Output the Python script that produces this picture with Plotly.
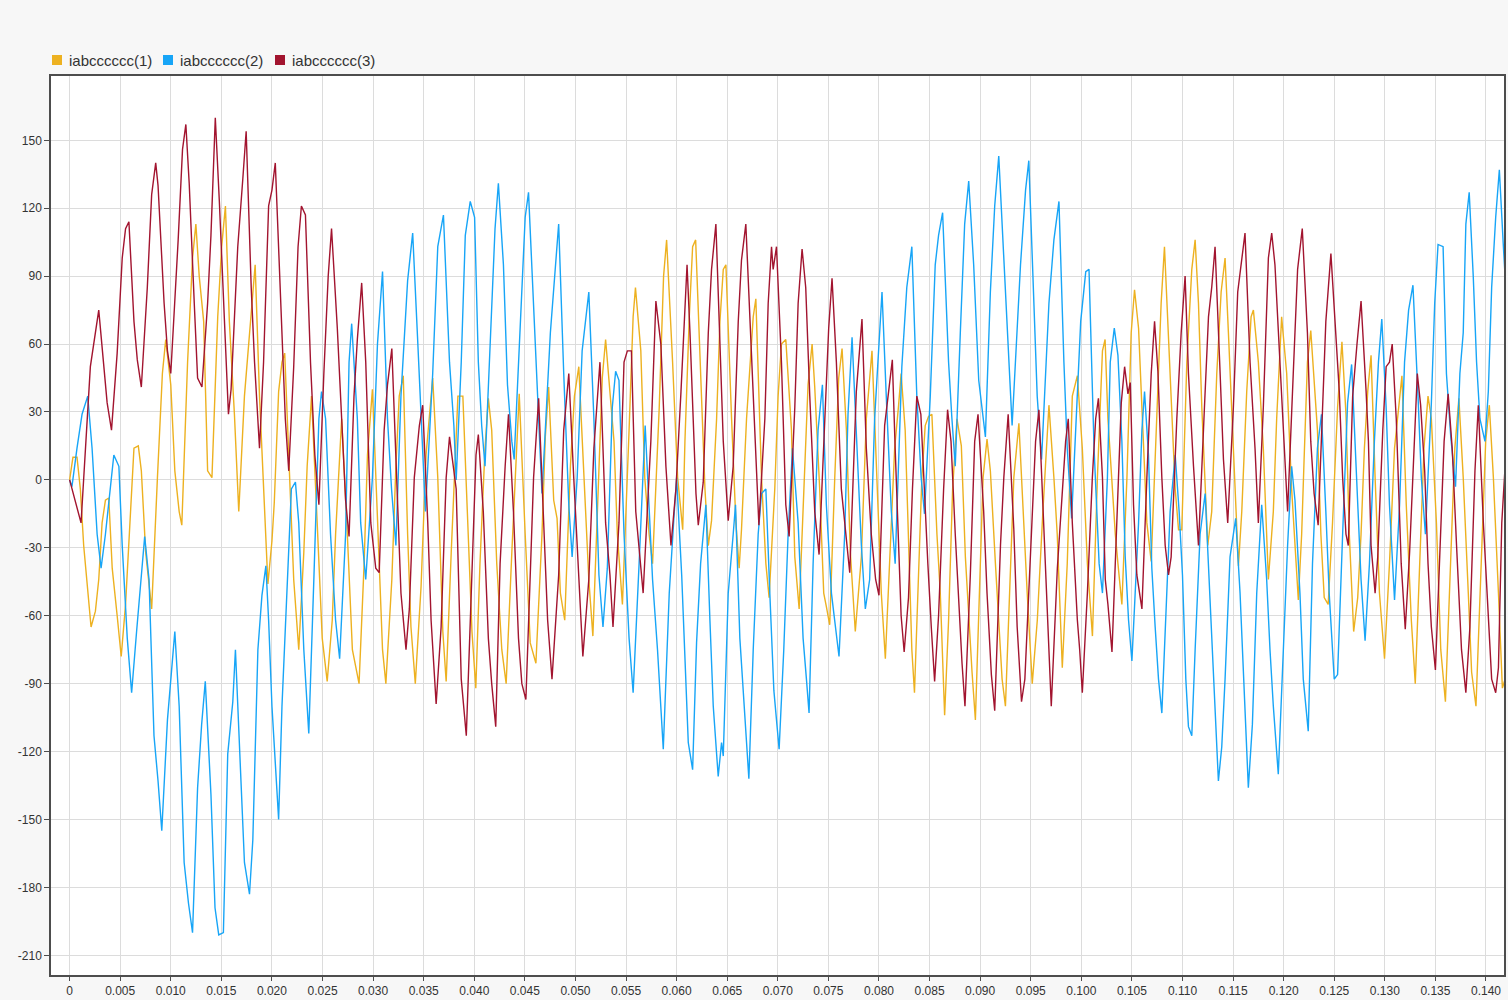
"""Three-phase current trace (iabcccccc) recreated with Plotly."""

import numpy as np
import plotly.graph_objects as go

# legend names and colours
series_names = ["iabcccccc(1)", "iabcccccc(2)", "iabcccccc(3)"]
series_colors = ["#EDB120", "#17A5F7", "#A2142F"]

# sample times in ms and values, phase 1 (orange)
t1_ms = [
    0.00, 0.33, 0.73, 1.06, 1.39, 1.72, 2.12, 2.55, 2.88, 3.21, 3.54, 3.87, 4.21, 4.70, 5.10,
    5.53, 6.03, 6.36, 6.79, 7.09, 7.52, 8.11, 8.68, 9.17, 9.50, 10.00, 10.40, 10.83, 11.09,
    11.66, 12.15, 12.48, 12.81, 13.25, 13.64, 14.07, 14.64, 15.03, 15.40, 15.79, 16.29, 16.72,
    17.28, 17.78, 18.34, 18.77, 19.27, 19.60, 20.00, 20.23, 20.66, 20.99, 21.26, 21.66, 22.15,
    22.65, 23.15, 23.48, 23.91, 24.47, 24.97, 25.46, 25.96, 26.29, 26.62, 26.89, 27.45, 27.95,
    28.61, 29.11, 29.44, 29.93, 30.43, 30.93, 31.26, 31.85, 32.25, 32.58, 32.98, 33.41, 33.74,
    34.17, 34.74, 35.23, 35.89, 36.39, 36.89, 37.22, 37.72, 38.38, 38.87, 39.37, 39.77, 40.15,
    40.56, 41.06, 41.39, 41.72, 42.22, 42.72, 43.15, 43.71, 44.21, 44.44, 45.03, 45.53, 46.09,
    46.69, 47.02, 47.35, 47.85, 48.18, 48.51, 48.94, 49.50, 49.90, 50.33, 50.99, 51.32, 51.72,
    52.32, 52.65, 52.98, 53.81, 54.14, 54.64, 55.30, 55.70, 55.93, 56.46, 56.85, 57.28, 57.62,
    58.28, 58.71, 59.01, 59.60, 60.10, 60.60, 60.82, 61.25, 61.58, 61.88, 62.30, 62.80, 63.13,
    63.45, 63.95, 64.28, 64.61, 64.87, 65.43, 65.86, 66.18, 66.41, 66.91, 67.24, 67.57, 67.83,
    68.39, 68.82, 69.14, 69.70, 70.03, 70.36, 70.79, 71.35, 71.68, 72.11, 72.66, 72.99, 73.39,
    73.65, 74.14, 74.54, 74.80, 75.13, 75.63, 76.02, 76.35, 76.78, 77.17, 77.66, 78.26, 78.75,
    79.31, 79.74, 80.23, 80.63, 81.05, 81.55, 81.94, 82.19, 82.59, 82.92, 83.25, 83.51, 83.91,
    84.24, 84.57, 84.90, 85.23, 85.73, 86.06, 86.49, 86.88, 87.28, 87.71, 88.14, 88.54, 88.87,
    89.20, 89.53, 89.86, 90.29, 90.68, 91.01, 91.51, 91.84, 92.17, 92.50, 93.00, 93.33, 93.83,
    94.32, 94.65, 95.15, 95.65, 96.20, 96.80, 97.29, 97.62, 98.12, 98.61, 99.11, 99.61, 100.10,
    100.60, 101.10, 101.59, 102.09, 102.35, 102.63, 103.03, 103.36, 103.62, 104.01, 104.51,
    104.93, 105.26, 105.66, 105.99, 106.48, 106.91, 107.47, 107.89, 108.22, 108.62, 108.95,
    109.28, 109.61, 109.93, 110.43, 110.92, 111.25, 111.58, 111.91, 112.24, 112.50, 112.89,
    113.39, 113.82, 114.21, 114.54, 115.03, 115.53, 115.86, 116.35, 116.78, 117.01, 117.50,
    117.99, 118.49, 118.98, 119.31, 119.80, 120.30, 120.79, 121.45, 121.78, 122.02, 122.35,
    122.68, 123.01, 123.34, 123.68, 124.01, 124.40, 124.83, 125.33, 125.76, 126.16, 126.49,
    126.92, 127.32, 127.65, 127.98, 128.31, 128.64, 129.04, 129.47, 129.97, 130.46, 130.96,
    131.69, 132.12, 132.62, 133.01, 133.44, 133.87, 134.27, 134.60, 135.10, 135.53, 135.99,
    136.42, 136.92, 137.32, 137.75, 138.25, 138.58, 139.01, 139.50, 139.97, 140.33, 140.73,
    141.23, 141.62, 141.89,
]
v1 = [
    0, 10, 10, -4, -29, -44, -65, -58, -44, -19, -9, -8, -39, -60, -78,
    -55, -14, 14, 15, 4, -32, -57, 1, 47, 62, 42, 4, -14, -20,
    52, 98, 113, 90, 70, 4, 1, 72, 103, 121, 70, 29, -14,
    37, 65, 95, 37, -14, -46, -27, -10, 39, 52, 56, 14, -44,
    -75, -32, 6, 37, -19, -70, -89, -62, -24, 6, 27, -24, -75,
    -90, -37, 11, 40, -17, -75, -90, -44, 6, 37, 46, -24, -65,
    -90, -47, 11, 45, 1, -67, -89, -32, 37, 37, -19, -67, -92,
    -37, 14, 36, 22, -37, -75, -90, -32, 17, 38, -24, -72, -81,
    -24, 19, 41, -9, -17, -50, -62, 6, 37, 50, -14, -44, -69,
    1, 45, 62, 17, -24, -55, 22, 72, 85, 57, 1, -24, -37,
    32, 90, 106, 52, 1, -22, 17, 72, 103, 106, 52, -4, -29,
    -18, 27, 70, 93, 95, 27, -19, -39, -22, 27, 52, 72, 80,
    1, -37, -52, -4, 37, 60, 62, 22, -34, -57, 1, 42, 60,
    41, -4, -50, -56, -64, 1, 45, 58, 22, -32, -67, -34, 27,
    57, 9, -50, -79, -39, 14, 33, 47, 22, -32, -75, -94, -44,
    1, 24, 28, 29, -24, -50, -104, -62, -4, 27, 15, -34, -62,
    -85, -106, -62, 1, 18, 4, -37, -65, -88, -100, -39, 1, 25,
    -24, -50, -90, -62, -14, 33, 1, -24, -83, -37, 37, 46, 14,
    -37, -69, 1, 57, 62, 27, -4, -24, -37, -55, 1,
    65, 84, 67, 32, -19, -36, 32, 78, 103, 65, 27,
    -4, -22, -22, 52, 93, 106, 78, 32, -6, -29, -14,
    47, 83, 98, 65, 14, -38, -14, 39, 72, 75, 52,
    14, -44, -14, 27, 72, 47, -4, -53, -24, 9, 52,
    66, 45, 22, -24, -52, -55, -19, 32, 61, 29, -24,
    -67, -52, -24, 14, 39, 55, 1, -50, -79, -37, 14,
    46, -11, -62, -90, -37, 14, 37, 27, -19, -75, -98,
    -44, 14, 36, 1, -50, -85, -100, -37, 17, 33, 1,
    -50, -92, -88,
]

# phase 2 (blue)
t2_ms = [
    0.00, 0.23, 0.73, 1.23, 1.79, 2.22, 2.72, 3.11, 3.54, 4.04, 4.37, 4.87, 5.20, 5.70, 6.13,
    6.62, 7.02, 7.42, 7.85, 8.34, 8.74, 9.11, 9.67, 10.00, 10.40, 10.83, 11.32, 11.75, 12.15,
    12.65, 13.05, 13.41, 13.97, 14.37, 14.74, 15.20, 15.63, 16.13, 16.39, 16.89, 17.28, 17.78,
    18.11, 18.61, 19.01, 19.40, 19.67, 20.00, 20.33, 20.66, 20.99, 21.49, 21.92, 22.32, 22.65,
    23.15, 23.64, 24.14, 24.64, 24.90, 25.30, 25.79, 26.29, 26.69, 27.28, 27.62, 27.88, 28.44,
    28.77, 29.27, 29.93, 30.43, 30.93, 31.42, 31.82, 32.25, 32.75, 33.41, 33.91, 34.40, 34.74,
    35.17, 35.89, 36.39, 36.95, 37.55, 37.98, 38.21, 38.71, 39.11, 39.60, 40.03, 40.40, 40.73,
    41.06, 41.62, 42.05, 42.38, 42.88, 43.28, 43.71, 43.94, 44.54, 45.03, 45.36, 45.86, 46.36,
    46.69, 47.52, 48.01, 48.34, 48.84, 49.34, 49.67, 50.17, 50.66, 51.32, 51.82, 52.32, 52.72,
    53.15, 53.64, 53.97, 54.30, 54.80, 55.30, 55.70, 56.29, 56.62, 56.89, 57.62, 58.11, 58.68,
    59.27, 59.77, 60.00, 60.50, 60.93, 61.15, 61.58, 61.97, 62.37, 62.89, 63.29, 63.62, 64.11,
    64.44, 64.61, 65.10, 65.59, 65.82, 66.25, 66.74, 67.14, 67.57, 68.06, 68.39, 68.82, 69.21,
    69.61, 70.13, 70.59, 71.02, 71.45, 72.01, 72.50, 72.83, 73.09, 73.49, 73.98, 74.41, 74.80,
    75.30, 75.69, 76.05, 76.61, 76.94, 77.34, 77.76, 78.26, 78.65, 79.08, 79.57, 79.97, 80.30,
    80.72, 81.22, 81.60, 81.86, 82.26, 82.75, 83.25, 83.74, 84.17, 84.50, 85.07, 85.56, 85.89,
    86.29, 86.88, 87.21, 87.54, 88.04, 88.47, 88.87, 89.36, 89.86, 90.35, 90.52, 91.01, 91.44,
    91.84, 92.34, 92.67, 93.16, 93.99, 94.49, 94.81, 95.31, 95.64, 96.07, 96.80, 97.29, 97.79,
    98.28, 98.61, 99.04, 99.61, 99.94, 100.44, 100.76, 101.26, 101.76, 102.09, 102.58, 102.86,
    103.26, 103.62, 104.01, 104.34, 104.67, 105.00, 105.33, 105.66, 105.99, 106.25, 106.64,
    106.97, 107.30, 107.63, 107.96, 108.45, 108.78, 109.28, 109.67, 110.00, 110.33, 110.59,
    110.92, 111.25, 111.74, 112.24, 112.57, 113.06, 113.55, 113.88, 114.21, 114.70, 115.26,
    115.69, 116.18, 116.51, 116.91, 117.34, 117.83, 118.32, 118.65, 118.98, 119.47, 119.97,
    120.39, 120.79, 121.12, 121.61, 121.94, 122.43, 122.85, 123.34, 123.74, 124.17, 124.50,
    125.00, 125.33, 125.83, 126.32, 126.72, 127.32, 127.65, 128.05, 128.48, 128.97, 129.37,
    129.70, 130.13, 130.46, 130.96, 131.46, 131.95, 132.35, 132.78, 133.28, 133.61, 134.01,
    134.60, 134.93, 135.26, 135.76, 136.09, 136.52, 136.99, 137.42, 137.75, 138.01, 138.34,
    138.74, 139.07, 139.40, 139.90, 140.23, 140.56, 140.96, 141.32, 141.72, 141.89,
]
v2 = [
    0, -3, 14, 29, 37, 14, -24, -39, -24, -1, 11, 6, -29, -70, -94,
    -67, -44, -25, -44, -113, -133, -155, -106, -88, -67, -100, -169, -187, -200,
    -136, -108, -89, -139, -189, -201, -200, -121, -98, -75, -128, -169, -183,
    -159, -75, -51, -38, -62, -100, -126, -150, -100, -50, -4, -1, -19,
    -75, -112, -44, 27, 39, 27, -24, -62, -79, -24, 52, 69, 27,
    -19, -44, 1, 60, 92, 27, -4, -29, 37, 88, 109, 62, 27,
    -14, 47, 103, 117, 52, 24, 0, 52, 108, 123, 116, 52, 24,
    6, 70, 111, 131, 95, 42, 17, 9, 72, 116, 127, 78, 22,
    -6, 65, 93, 113, 47, -11, -34, 1, 57, 83, 27, -42, -65,
    -39, 32, 48, 44, -24, -70, -94, -37, 1, 24, -44, -75, -119,
    -50, -14, 1, -42, -90, -116, -128, -72, -37, -11, -62, -100, -131,
    -116, -122, -50, -24, -11, -70, -106, -132, -75, -24, -6, -4, -50,
    -93, -119, -75, -24, 14, -19, -70, -88, -103, -37, 22, 42, -11,
    -50, -65, -78, -24, 29, 63, 22, -29, -57, -44, 27, 57, 83,
    37, -14, -37, 1, 50, 85, 103, 37, 1, -15, 37, 95, 108,
    118, 52, 27, 6, 65, 113, 132, 95, 44, 24, 19, 83, 121,
    143, 98, 65, 24, 95, 128, 141, 80, 37, 9, 78, 106, 123,
    52, 14, -17, 37, 70, 92, 93, 14, -37, -50, 1, 52,
    67, 55, 17, -34, -62, -80, -50, -19, 22, 39, 11,
    -39, -65, -88, -103, -50, -14, 11, -14, -42, -88, -109,
    -113, -75, -24, -6, -37, -88, -133, -118, -88, -34, -17,
    -50, -100, -136, -108, -50, -11, -44, -75, -100, -130, -75,
    -29, 6, -9, -50, -88, -111, -37, 14, 29, -14, -50,
    -88, -86, -24, 34, 51, -6, -44, -71, -37, 17, 52,
    71, 32, -11, -53, -11, 52, 75, 86, 37, 1, -24,
    34, 78, 104, 103, 47, 19, -3, 47, 65, 113, 127,
    90, 52, 27, 17, 39, 85, 116, 137, 103, 90,
]

# phase 3 (dark red)
t3_ms = [
    0.00, 1.13, 2.05, 2.55, 2.88, 3.71, 4.14, 4.70, 5.20, 5.53, 5.86, 6.36, 6.69, 7.09, 7.68,
    8.11, 8.51, 8.74, 9.34, 9.67, 10.00, 10.73, 11.16, 11.49, 11.82, 12.32, 12.65, 13.08,
    13.64, 13.97, 14.40, 14.80, 15.30, 15.70, 15.96, 16.62, 17.12, 17.45, 17.95, 18.28, 18.77,
    19.17, 19.67, 20.00, 20.33, 20.99, 21.32, 21.66, 22.15, 22.58, 22.91, 23.31, 23.81, 24.24,
    24.64, 25.13, 25.56, 25.89, 26.46, 26.89, 27.28, 27.62, 28.11, 28.44, 28.87, 29.27, 29.77,
    30.26, 30.60, 31.09, 31.42, 31.85, 32.25, 32.75, 33.25, 33.58, 34.07, 34.57, 34.90, 35.40,
    35.73, 36.23, 36.72, 37.22, 37.55, 38.21, 38.71, 39.21, 39.70, 40.17, 40.40, 40.89, 41.39,
    41.72, 42.12, 42.55, 43.05, 43.38, 43.87, 44.37, 44.70, 45.10, 45.53, 45.86, 46.36, 46.85,
    47.25, 47.68, 48.34, 48.84, 49.34, 49.83, 50.33, 50.73, 51.32, 51.82, 52.42, 52.98, 53.41,
    53.71, 54.30, 54.80, 55.13, 55.53, 55.96, 56.29, 56.69, 57.45, 57.95, 58.44, 58.94, 59.44,
    59.93, 60.43, 61.03, 61.32, 61.64, 61.91, 62.14, 62.63, 63.13, 63.45, 63.88, 64.28, 64.61,
    65.10, 65.59, 66.09, 66.41, 66.84, 67.30, 67.73, 68.13, 68.72, 69.05, 69.38, 69.54, 69.87,
    70.36, 70.79, 71.12, 71.68, 72.01, 72.40, 72.76, 73.16, 73.65, 74.08, 74.64, 75.03, 75.36,
    75.79, 76.28, 76.78, 77.11, 77.76, 78.32, 78.75, 79.24, 79.67, 80.00, 80.56, 80.99, 81.32,
    81.60, 81.86, 82.19, 82.49, 82.92, 83.31, 83.74, 84.14, 84.57, 84.83, 85.17, 85.50, 85.89,
    86.39, 86.78, 87.12, 87.54, 87.94, 88.21, 88.50, 89.03, 89.46, 89.79, 90.35, 90.68, 91.11,
    91.44, 92.01, 92.34, 92.77, 93.33, 93.66, 94.09, 94.42, 95.15, 95.48, 95.81, 96.31, 96.64,
    97.03, 97.63, 98.06, 98.45, 98.71, 99.11, 99.61, 99.84, 100.10, 100.60, 101.09, 101.42,
    101.69, 102.09, 102.37, 102.63, 103.03, 103.52, 103.95, 104.28, 104.61, 104.84, 105.16,
    105.49, 105.99, 106.48, 106.91, 107.24, 107.57, 107.96, 108.29, 108.62, 108.88, 109.44,
    109.87, 110.26, 110.59, 111.09, 111.58, 112.17, 112.57, 112.89, 113.22, 113.72, 114.05,
    114.47, 115.03, 115.46, 115.86, 116.18, 116.68, 117.17, 117.50, 117.99, 118.49, 118.82,
    119.14, 119.64, 119.97, 120.39, 120.95, 121.38, 121.84, 122.35, 122.68, 123.01, 123.41,
    123.84, 124.17, 124.67, 125.17, 125.50, 125.83, 126.16, 126.39, 126.82, 127.25, 127.65,
    128.15, 128.38, 128.64, 129.04, 129.30, 129.80, 130.13, 130.46, 130.73, 131.13, 131.62,
    132.02, 132.45, 132.78, 133.21, 133.54, 133.94, 134.27, 134.60, 135.00, 135.43, 135.86,
    136.26, 136.66, 137.09, 137.58, 138.01, 138.41, 138.91, 139.24, 139.74, 140.23, 140.56,
    140.96, 141.23, 141.56, 141.89,
]
v3 = [
    0, -19, 50, 64, 75, 34, 22, 56, 98, 111, 114, 70, 53, 41, 85,
    126, 140, 130, 78, 57, 47, 106, 146, 157, 131, 78, 45, 41,
    78, 108, 160, 123, 72, 29, 40, 103, 133, 154, 85, 52, 14,
    52, 121, 128, 140, 65, 27, 4, 50, 103, 121, 117, 52, 11,
    -11, 47, 90, 111, 67, 27, -9, -25, 37, 62, 87, 52, -19,
    -39, -41, 22, 42, 58, 6, -50, -75, -57, 1, 24, 33, -19,
    -62, -99, -65, 1, 19, -4, -88, -113, -50, 11, 20, -14, -70,
    -90, -109, -37, 6, 29, -14, -70, -90, -97, -42, 1, 36, -14,
    -62, -88, -42, 22, 47, 1, -44, -78, -44, 14, 52, -19, -42,
    -65, -19, 52, 57, 57, -14, -32, -50, 17, 79, 60, 6, -29,
    -4, 39, 95, 65, 27, -6, -20, -1, 65, 93, 113, 60, 17,
    -18, 6, 70, 97, 113, 65, 17, -20, 27, 78, 103, 93, 103,
    52, -11, -25, 32, 78, 102, 85, 37, -14, -33, 22, 67, 89,
    52, -4, -28, -41, 39, 71, 14, -24, -44, -51, 24, 39, 53,
    14, -17, -60, -76, -52, -4, 37, 29, -14, -37, -65, -89, -60,
    -4, 31, 17, -24, -62, -81, -100, -42, 17, 29, -14, -50, -86,
    -102, -29, 1, 29, -22, -65, -98, -88, -17, 17, 31, -24, -60,
    -100, -39, -9, 17, 27, -19, -62, -75, -94, -50, 1, 27,
    36, 1, -44, -55, -76, -19, 34, 50, 38, 43, -11,
    -42, -57, 1, 47, 70, 48, 1, -29, -42, -34, 27,
    65, 90, 47, 6, -29, 32, 72, 85, 103, 47, 9,
    -19, 32, 83, 98, 109, 52, 14, -19, 32, 98, 109,
    95, 52, 24, -14, 47, 93, 111, 65, 17, -6, -20,
    27, 70, 100, 60, 39, 1, -24, -29, 37, 60, 79,
    39, 17, -29, -50, -34, 22, 50, 52, 60, 27, -37,
    -66, -32, 1, 47, 33, 4, -37, -65, -84, -29, 17,
    38, 14, -29, -75, -94, -65, 4, 33, -19, -62, -88,
    -94, -83, -19, 6,
]

# axis ticks
x_tickvals = [0, 0.005, 0.010, 0.015, 0.020, 0.025, 0.030, 0.035, 0.040, 0.045, 0.050,
              0.055, 0.060, 0.065, 0.070, 0.075, 0.080, 0.085, 0.090, 0.095, 0.100,
              0.105, 0.110, 0.115, 0.120, 0.125, 0.130, 0.135, 0.140]
x_ticktext = ["0", "0.005", "0.010", "0.015", "0.020", "0.025", "0.030", "0.035", "0.040",
              "0.045", "0.050", "0.055", "0.060", "0.065", "0.070", "0.075", "0.080", "0.085",
              "0.090", "0.095", "0.100", "0.105", "0.110", "0.115", "0.120", "0.125", "0.130",
              "0.135", "0.140"]
y_tickvals = [-210, -180, -150, -120, -90, -60, -30, 0, 30, 60, 90, 120, 150]
y_ticktext = ["-210", "-180", "-150", "-120", "-90", "-60", "-30", "0", "30", "60", "90",
              "120", "150"]

FONT = "Liberation Sans, Arial, sans-serif"
PAGE_BG = '#f7f7f7'

fig = go.Figure()

for t_ms, vals, name, color in zip([t1_ms, t2_ms, t3_ms], [v1, v2, v3],
                                   series_names, series_colors):
    fig.add_trace(go.Scatter(
        x=np.array(t_ms) / 1000.0,
        y=vals,
        mode='lines',
        name=name,
        line=dict(color=color, width=1.4),
        showlegend=False
    ))

# legend drawn as small squares + labels above the top-left corner
legend_offsets = [1, 112, 224]
for off, name, color in zip(legend_offsets, series_names, series_colors):
    fig.add_shape(
        type='rect', xref='paper', yref='paper',
        xsizemode='pixel', ysizemode='pixel',
        xanchor=0, yanchor=1,
        x0=off, x1=off + 10, y0=11, y1=21,
        fillcolor=color, line=dict(width=0)
    )
    fig.add_annotation(
        text=name, xref='paper', yref='paper', x=0, y=1,
        xanchor='left', yanchor='middle', xshift=off + 15, yshift=16,
        showarrow=False, font=dict(family=FONT, size=15, color='#333333')
    )

fig.update_layout(
    width=1508,
    height=1000,
    margin=dict(l=51, r=2, t=76, b=24),
    paper_bgcolor=PAGE_BG,
    plot_bgcolor='#ffffff',
    font=dict(family=FONT, size=12, color='#333333'),
    showlegend=False,
    xaxis=dict(
        range=[-0.00184, 0.14178],
        tickvals=x_tickvals, ticktext=x_ticktext,
        showgrid=True, gridcolor='#dcdcdc', gridwidth=1,
        zeroline=False,
        showline=True, linecolor='#4d4d4d', linewidth=1.5, mirror=True,
        ticks='outside', ticklen=4, tickcolor='#4d4d4d',
        tickfont=dict(family=FONT, size=12, color='#333333')
    ),
    yaxis=dict(
        range=[-218.7, 178.4],
        tickvals=y_tickvals, ticktext=y_ticktext,
        showgrid=True, gridcolor='#dcdcdc', gridwidth=1,
        zeroline=False,
        showline=True, linecolor='#4d4d4d', linewidth=1.5, mirror=True,
        ticks='outside', ticklen=5, tickcolor='#4d4d4d',
        tickfont=dict(family=FONT, size=12, color='#333333')
    )
)

# drop the browser's default body margin so the figure fills the window
fig.write_html(
    "out.html",
    config={'displayModeBar': False},
    post_script="document.body.style.margin='0';"
                "document.body.style.background='" + PAGE_BG + "';"
)
